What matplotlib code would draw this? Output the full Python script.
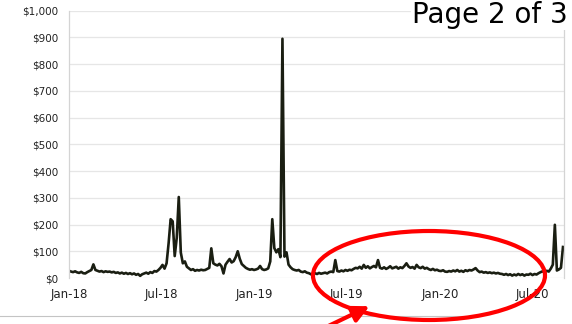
import pandas as pd
import matplotlib
matplotlib.use("Agg")
import matplotlib.pyplot as plt
import matplotlib.dates as mdates
from matplotlib.patches import Ellipse, FancyArrowPatch
from matplotlib.lines import Line2D
from matplotlib.ticker import FuncFormatter

W, H = 572, 324

# price series, one reading every 4 days starting 2018-01-01
start_date = "2018-01-01"
step = "4D"
prices = [
    27, 24, 22, 25, 21, 19, 23, 18, 17, 22,
    26, 30, 51, 30, 27, 24, 26, 22, 25, 23,
    24, 21, 23, 19, 21, 17, 20, 16, 19, 15,
    18, 14, 17, 12, 15, 8, 14, 17, 20, 16,
    22, 19, 26, 24, 30, 38, 49, 35, 55, 130,
    220, 212, 82, 150, 303, 95, 55, 62, 42, 36,
    30, 33, 27, 30, 28, 31, 29, 30, 34, 38,
    111, 55, 50, 47, 53, 44, 17, 50, 61, 71,
    58, 63, 78, 100, 72, 52, 45, 38, 34, 31,
    33, 30, 32, 35, 45, 33, 30, 32, 36, 62,
    220, 112, 96, 108, 78, 895, 80, 96, 50, 40,
    33, 30, 28, 30, 24, 22, 25, 20, 18, 14,
    11, 18, 15, 19, 16, 18, 20, 17, 22, 24,
    22, 67, 26, 24, 28, 25, 30, 27, 31, 29,
    34, 38, 36, 42, 35, 49, 38, 44, 36, 41,
    45, 40, 67, 38, 35, 40, 34, 38, 44, 36,
    39, 42, 35, 40, 37, 45, 55, 43, 38, 41,
    35, 49, 40, 37, 42, 35, 38, 33, 30, 34,
    29, 31, 27, 26, 29, 24, 23, 26, 24, 28,
    25, 30, 24, 27, 23, 29, 26, 30, 28, 32,
    37, 28, 22, 24, 20, 22, 19, 21, 18, 20,
    17, 19, 16, 15, 12, 15, 11, 14, 9, 13,
    10, 15, 11, 14, 9, 13, 12, 16, 11, 15,
    13, 18, 22, 25, 21, 27, 24, 35, 50, 199,
    28, 32, 38, 116,
]
tick_dates = ["2018-01-01", "2018-07-01", "2019-01-01", "2019-07-01",
              "2020-01-01", "2020-07-01"]
y_ticks = list(range(0, 1001, 100))


def px(x, y):
    # pixel position in the picture -> figure fraction
    return x / W, 1 - y / H


dates = pd.date_range(start_date, periods=len(prices), freq=step)

fig = plt.figure(figsize=(W / 100, H / 100), dpi=100)
ax = fig.add_axes([69 / W, 1 - 278 / H, (564 - 69) / W, (278 - 10.7) / H])

ax.plot(dates, prices, color="#1a1e12", lw=1.9, solid_joinstyle="round")

ax.set_ylim(0, 1000)
ax.set_xlim(pd.Timestamp("2018-01-01"), pd.Timestamp("2020-09-01"))
ax.set_yticks(y_ticks)
ax.yaxis.set_major_formatter(FuncFormatter(lambda v, p: f"${v:,.0f}"))
ax.set_xticks(pd.to_datetime(tick_dates))
ax.xaxis.set_major_formatter(mdates.DateFormatter("%b-%y"))

ax.grid(axis="y", color="#e6e6e6", lw=0.9)
ax.grid(axis="x", visible=False)
ax.set_axisbelow(True)
for side in ["top", "bottom"]:
    ax.spines[side].set_visible(False)
for side in ["left", "right"]:
    ax.spines[side].set_color("#d4d4d4")
    ax.spines[side].set_linewidth(0.9)

ax.tick_params(axis="y", length=0, pad=8, labelsize=7.5, labelcolor="#222222")
ax.tick_params(axis="x", length=0, pad=7, labelsize=8.5, labelcolor="#222222")

# grey rule at the bottom of the page
fig.add_artist(Line2D([0, 462 / W], [1 - 316 / H] * 2, color="#c4c4c4", lw=0.8,
                      transform=fig.transFigure))

# red highlight
cx, cy = px(429, 275.5)
fig.add_artist(Ellipse((cx, cy), 232 / W, 89 / H, fill=False, edgecolor="#ff0000",
                       lw=3, transform=fig.transFigure, zorder=10))
fig.add_artist(FancyArrowPatch(px(318, 331), px(372, 305), transform=fig.transFigure,
                               arrowstyle="-|>", mutation_scale=25, color="#ff0000",
                               lw=3, zorder=10))

fig.text(*px(568, 23.3), "Page 2 of 3", ha="right", va="baseline", fontsize=20,
         color="black", zorder=11,
         bbox=dict(facecolor="white", edgecolor="none", pad=0.5))

fig.savefig("out.png", dpi=100)
